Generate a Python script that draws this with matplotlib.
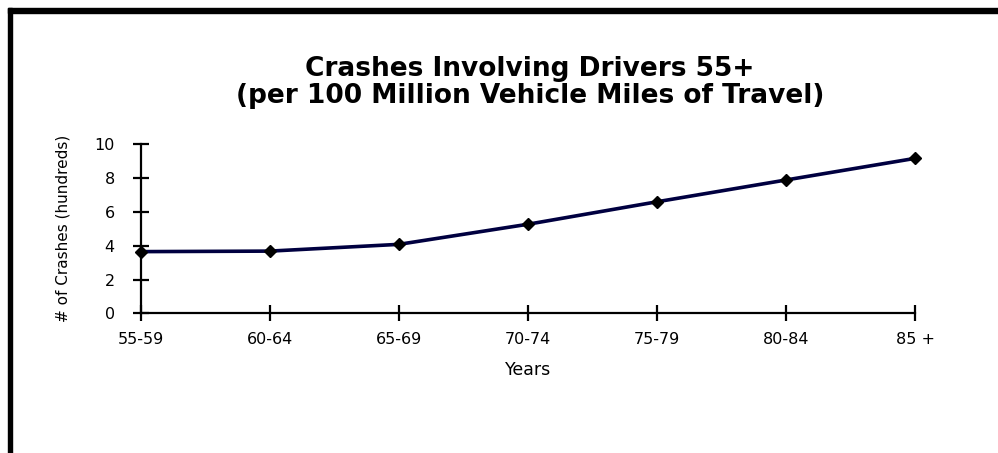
import matplotlib
matplotlib.use('Agg')
import matplotlib.pyplot as plt
from matplotlib.patches import Rectangle

# age groups and crash counts (hundreds, per 100 million VMT)
grupos = ['55-59', '60-64', '65-69', '70-74', '75-79', '80-84', '85 +']
acidentes = [3.65, 3.68, 4.08, 5.27, 6.60, 7.89, 9.17]
ticks_y = [0, 2, 4, 6, 8, 10]

titulo = 'Crashes Involving Drivers 55+\n(per 100 Million Vehicle Miles of Travel)'

fig = plt.figure(figsize=(9.98, 4.53), dpi=100)
fig.patch.set_facecolor('white')

# moldura preta (topo e lado esquerdo)
fig.patches.append(Rectangle((8 / 998, 0), 4 / 998, (453 - 8) / 453,
                             transform=fig.transFigure, color='black', zorder=10))
fig.patches.append(Rectangle((8 / 998, (453 - 13) / 453), 1 - 8 / 998, 5 / 453,
                             transform=fig.transFigure, color='black', zorder=10))

ax = fig.add_axes([0.141, 0.3084, 0.776, 0.373])
x = list(range(len(grupos)))
ax.plot(x, acidentes, color='#000040', linewidth=2.6, marker='D',
        markersize=6.5, markerfacecolor='black', markeredgecolor='black', clip_on=False)

ax.set_xlim(0, len(grupos) - 1)
ax.set_ylim(0, 10)
ax.set_xticks(x)
ax.set_xticklabels(grupos)
ax.set_yticks(ticks_y)

for lado in ['top', 'right']:
    ax.spines[lado].set_visible(False)
for lado in ['left', 'bottom']:
    ax.spines[lado].set_linewidth(1.6)
    ax.spines[lado].set_color('black')

ax.tick_params(axis='both', direction='inout', length=11.5, width=1.6,
               labelsize=11.5, colors='black')
ax.tick_params(axis='x', pad=8)
ax.tick_params(axis='y', pad=13)

ax.set_xlabel('Years', fontsize=12.5, labelpad=10)
ax.set_ylabel('# of Crashes (hundreds)', fontsize=11, labelpad=17)

fig.text(0.531, 0.817, titulo, ha='center', va='center', fontsize=19,
         fontweight='bold', linespacing=1.05)

plt.savefig('out.png', dpi=100)
